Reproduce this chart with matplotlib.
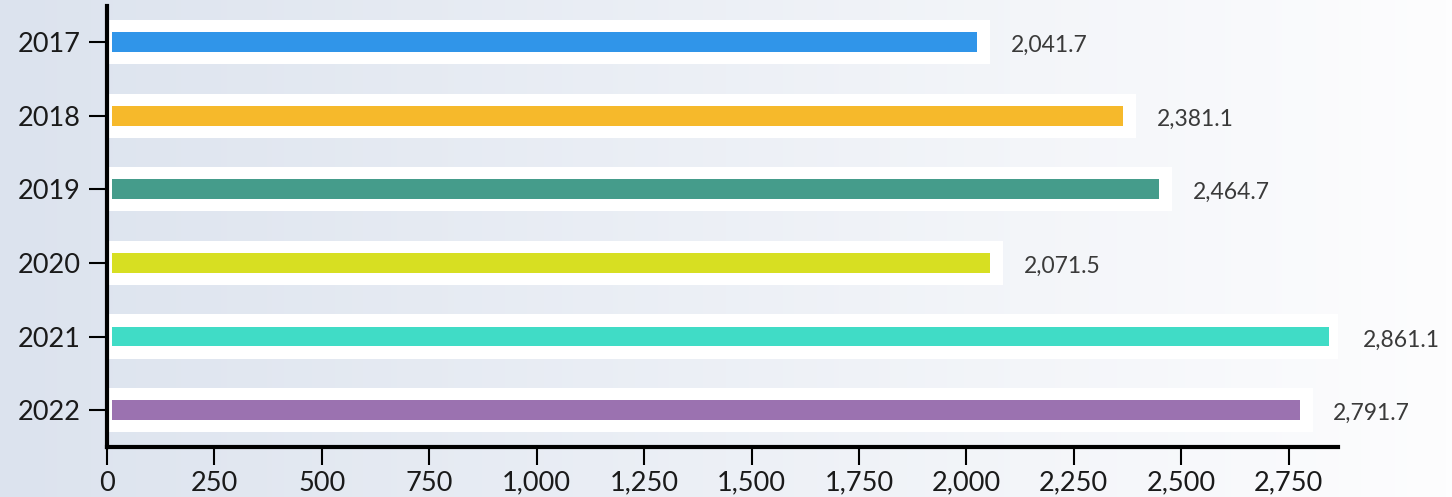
import matplotlib

matplotlib.use("Agg")
import matplotlib.pyplot as plt
import numpy as np
from matplotlib.colors import LinearSegmentedColormap
from matplotlib.ticker import FuncFormatter, MultipleLocator

YEARS = ["2017", "2018", "2019", "2020", "2021", "2022"]
VALUES = [2041.7, 2381.1, 2464.7, 2071.5, 2861.1, 2791.7]
COLORS = ["#3095e9", "#f6b92b", "#459c8b", "#d7df22", "#40dcc6", "#9b72b0"]

plt.rcParams["font.family"] = ["Lato", "DejaVu Sans"]

fig = plt.figure(figsize=(14.52, 4.97), dpi=100)

# background gradient, left to right
bg = fig.add_axes([0, 0, 1, 1], zorder=-10)
cmap = LinearSegmentedColormap.from_list("bg", ["#dce3ee", "#fdfdfe"])
bg.imshow(np.linspace(0, 1, 256).reshape(1, -1), aspect="auto", cmap=cmap, extent=[0, 1, 0, 1])
bg.set_axis_off()

ax = fig.add_axes([0.0737, 0.1006, 0.9215 - 0.0737, 0.988 - 0.1006])
ax.patch.set_alpha(0)

y = np.arange(len(YEARS))
pad = 14  # data units, white band reaches a bit past the bar
ax.barh(y, [v + pad for v in VALUES], height=0.6, color="white", zorder=1)
ax.barh(y, [v - 2 * pad for v in VALUES], left=12, height=0.27, color=COLORS, zorder=2)

for yi, v in zip(y, VALUES):
    ax.annotate(
        f"{v:,.1f}",
        xy=(v, yi),
        xytext=(19, -2.5),
        textcoords="offset points",
        ha="left",
        va="center",
        fontsize=16.5,
        color="#3a3a3a",
        annotation_clip=False,
    )

ax.set_xlim(0, 2865)
ax.set_ylim(len(YEARS) - 0.5, -0.49)
ax.set_yticks(y)
ax.set_yticklabels(YEARS)
ax.xaxis.set_major_locator(MultipleLocator(250))
ax.xaxis.set_major_formatter(FuncFormatter(lambda value, _: f"{value:,.0f}"))

for spine in ["top", "right"]:
    ax.spines[spine].set_visible(False)
for spine in ["left", "bottom"]:
    ax.spines[spine].set_linewidth(3)
    ax.spines[spine].set_color("black")
ax.tick_params(axis="both", length=13, width=1.5, color="black", labelsize=19.5, labelcolor="#1a1a1a")
ax.tick_params(axis="y", pad=6)
ax.tick_params(axis="x", pad=4)

fig.savefig("out.png", dpi=100)
